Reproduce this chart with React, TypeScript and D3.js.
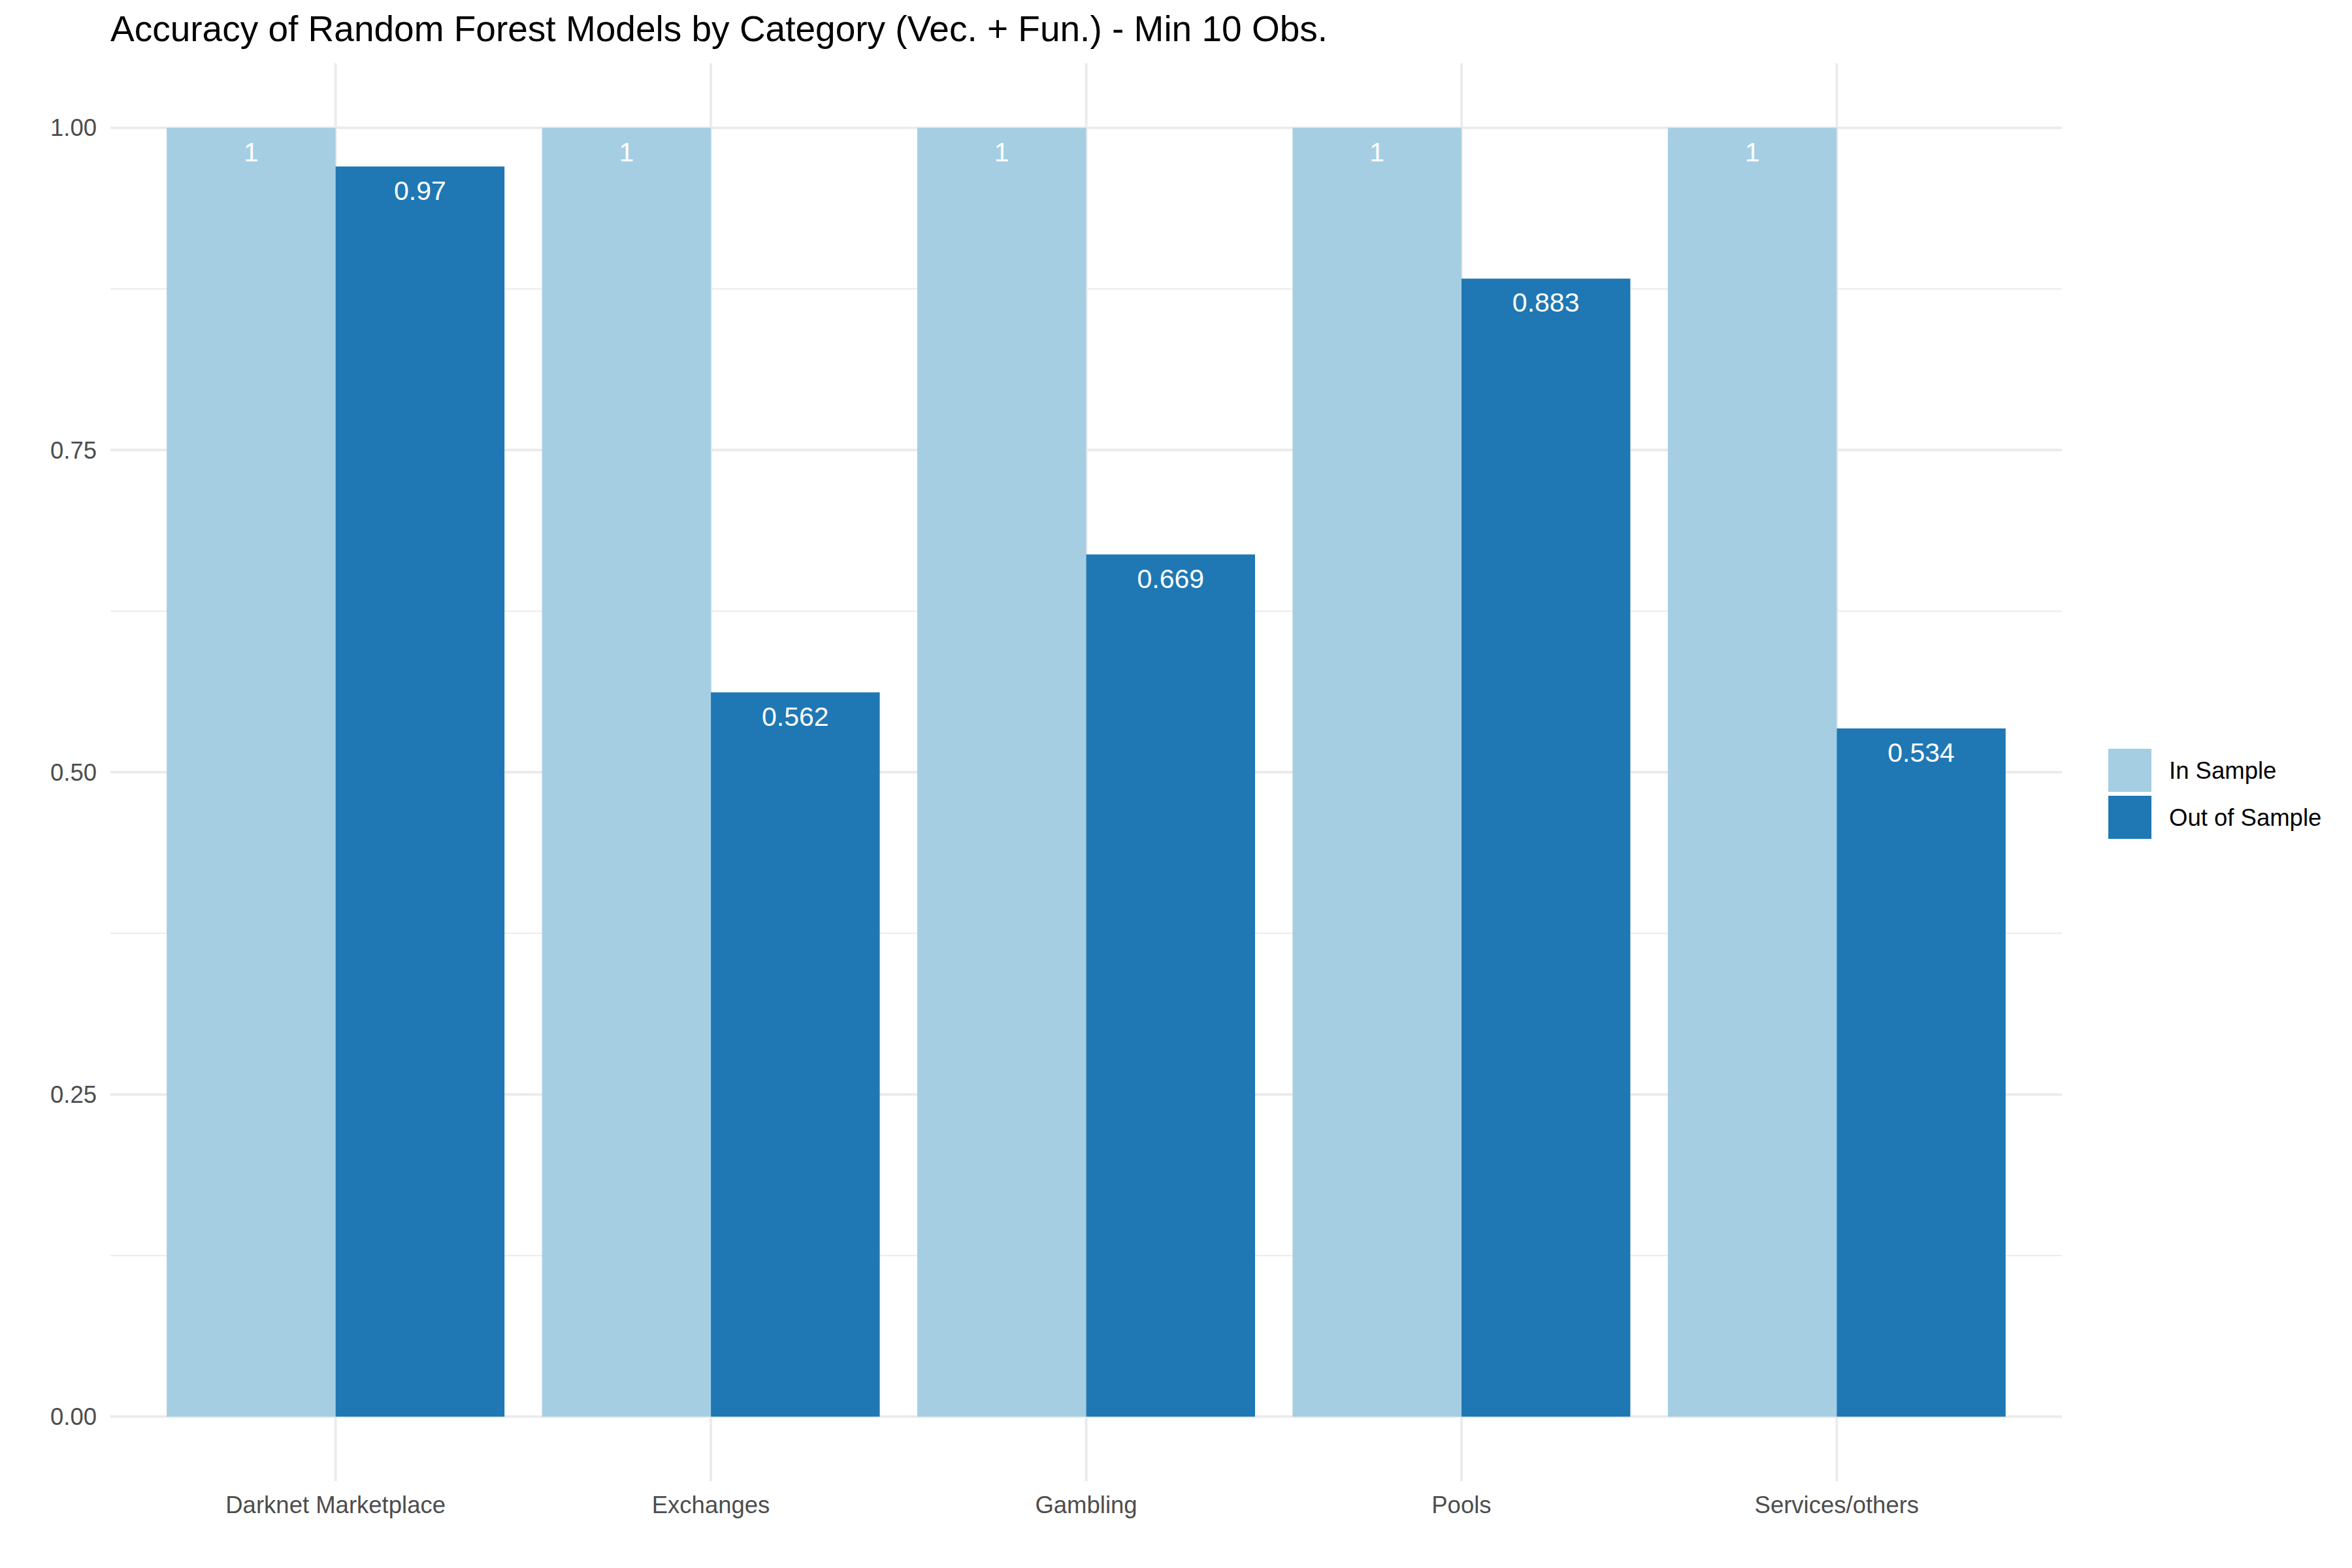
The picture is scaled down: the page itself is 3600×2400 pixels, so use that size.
import React from "react";
import * as d3 from "d3";

// chart data
const categories = ["Darknet Marketplace", "Exchanges", "Gambling", "Pools", "Services/others"];
const seriesNames = ["In Sample", "Out of Sample"];
const inSample = [1, 1, 1, 1, 1];
const outSample = [0.97, 0.562, 0.669, 0.883, 0.534];
const yTicks = [0, 0.25, 0.5, 0.75, 1];
const yMinorTicks = [0.125, 0.375, 0.625, 0.875];
const colors = ["#A6CEE3", "#1F78B4"];
const title = "Accuracy of Random Forest Models by Category (Vec. + Fun.) - Min 10 Obs.";

const W = 3600;
const H = 2400;
const panel = { left: 169, right: 3156, top: 97, bottom: 2267 };
const font = "'Liberation Sans', Arial, sans-serif";

const App: React.FC = () => {
    // ggplot-like discrete axis: 0.6 unit expansion on each side
    const n = categories.length;
    const unit = (panel.right - panel.left) / (n - 1 + 1.2);
    const xCenter = d3.scaleLinear()
        .domain([0, n - 1])
        .range([panel.left + 0.6 * unit, panel.right - 0.6 * unit]);
    const barW = unit * 0.45;

    // continuous y with 5% expansion
    const y = d3.scaleLinear()
        .domain([-0.05, 1.05])
        .range([panel.bottom, panel.top]);

    const series = [inSample, outSample];
    const fmt = (v: number) => String(+v.toFixed(3));

    return (
        <div style={{ position: "absolute", left: 0, top: 0 }}>
            <svg width={W} height={H} viewBox={`0 0 ${W} ${H}`} style={{ display: "block", background: "#fff" }}>
                <rect x={0} y={0} width={W} height={H} fill="#fff" />

                {/* minor grid */}
                {yMinorTicks.map((t) => (
                    <line key={`m${t}`} x1={panel.left} x2={panel.right} y1={y(t)} y2={y(t)}
                        stroke="#EBEBEB" strokeWidth={2} />
                ))}
                {/* major grid */}
                {yTicks.map((t) => (
                    <line key={`y${t}`} x1={panel.left} x2={panel.right} y1={y(t)} y2={y(t)}
                        stroke="#EBEBEB" strokeWidth={4} />
                ))}
                {categories.map((c, i) => (
                    <line key={`x${c}`} x1={xCenter(i)} x2={xCenter(i)} y1={panel.top} y2={panel.bottom}
                        stroke="#EBEBEB" strokeWidth={4} />
                ))}

                {/* bars */}
                {series.map((vals, s) =>
                    vals.map((v, i) => {
                        const x0 = xCenter(i) - barW + s * barW;
                        return (
                            <rect key={`b${s}-${i}`} x={x0} y={y(v)} width={barW}
                                height={y(0) - y(v)} fill={colors[s]} />
                        );
                    })
                )}

                {/* value labels */}
                {series.map((vals, s) =>
                    vals.map((v, i) => (
                        <text key={`l${s}-${i}`} x={xCenter(i) - barW / 2 + s * barW} y={y(v) + 51}
                            textAnchor="middle" fill="#fff" fontFamily={font} fontSize={41}>
                            {fmt(v)}
                        </text>
                    ))
                )}

                {/* y axis labels */}
                {yTicks.map((t) => (
                    <text key={`yt${t}`} x={148} y={y(t)} dy="0.35em" textAnchor="end"
                        fill="#4D4D4D" fontFamily={font} fontSize={36.5}>
                        {d3.format(".2f")(t)}
                    </text>
                ))}

                {/* x axis labels */}
                {categories.map((c, i) => (
                    <text key={`xt${c}`} x={xCenter(i)} y={2316} textAnchor="middle"
                        fill="#4D4D4D" fontFamily={font} fontSize={36.5}>
                        {c}
                    </text>
                ))}

                {/* title */}
                <text x={panel.left} y={63} fill="#000" fontFamily={font} fontSize={55}>
                    {title}
                </text>

                {/* legend */}
                {seriesNames.map((name, s) => (
                    <g key={name} transform={`translate(3227,${1146 + s * 72})`}>
                        <rect x={0} y={0} width={66} height={66} fill={colors[s]} />
                        <text x={93} y={33} dy="0.35em" fill="#000" fontFamily={font} fontSize={36.5}>
                            {name}
                        </text>
                    </g>
                ))}
            </svg>
        </div>
    );
};

export default App;
